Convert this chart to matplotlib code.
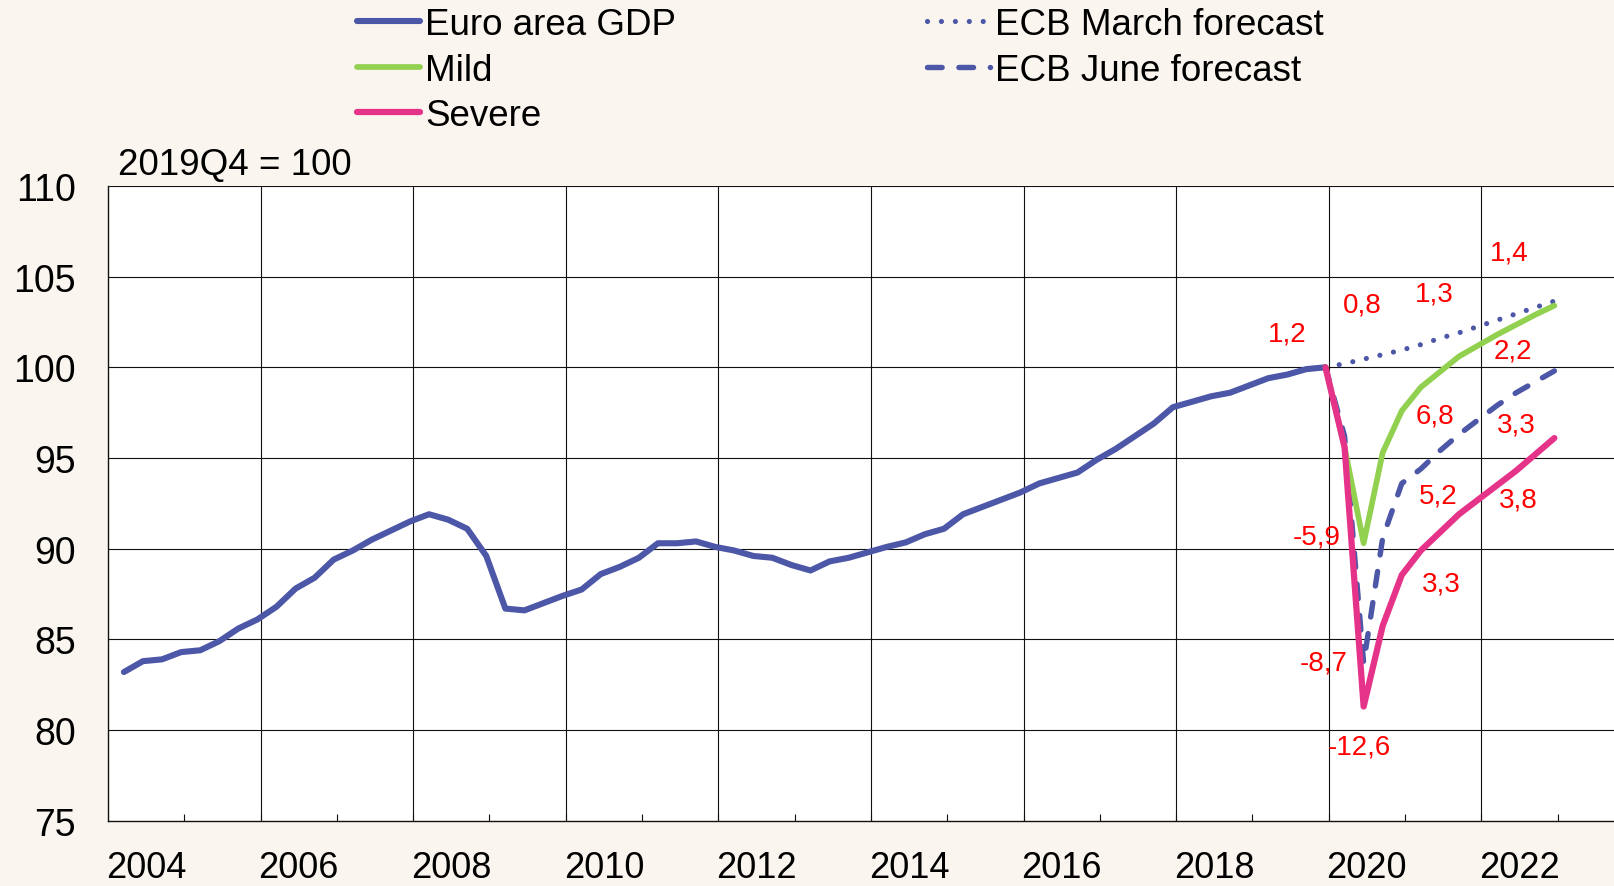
import matplotlib
matplotlib.use("Agg")
import matplotlib.pyplot as plt
import numpy as np
import pandas as pd

plt.rcParams["font.family"] = ["Liberation Sans", "DejaVu Sans"]

# Euro area GDP, index 2019Q4 = 100 (2004Q1 .. 2019Q4)
gdp = [
    83.2, 83.8, 83.9, 84.3,
    84.4, 84.9, 85.6, 86.1,
    86.8, 87.8, 88.4, 89.4,
    89.9, 90.5, 91.0, 91.5,
    91.9, 91.6, 91.1, 89.6,
    86.7, 86.6, 87.0, 87.4,
    87.75, 88.6, 89.0, 89.5,
    90.3, 90.3, 90.4, 90.1,
    89.9, 89.6, 89.5, 89.1,
    88.8, 89.3, 89.5, 89.8,
    90.1, 90.35, 90.8, 91.1,
    91.9, 92.3, 92.7, 93.1,
    93.6, 93.9, 94.2, 94.9,
    95.5, 96.2, 96.9, 97.8,
    98.1, 98.4, 98.6, 99.0,
    99.4, 99.6, 99.9, 100.0,
]

# scenarios, 2019Q4 .. 2022Q4
march_fc = [100.0, 100.2, 100.45, 100.7, 100.95, 101.25, 101.6, 101.9, 102.25, 102.6, 102.95, 103.3, 103.65]
june_fc = [100.0, 96.2, 83.7, 90.6, 93.6, 94.4, 95.4, 96.3, 97.1, 97.9, 98.6, 99.2, 99.8]
mild = [100.0, 95.6, 90.3, 95.3, 97.6, 98.9, 99.75, 100.6, 101.2, 101.8, 102.35, 102.9, 103.4]
severe = [100.0, 95.6, 81.3, 85.75, 88.55, 89.9, 90.9, 91.9, 92.7, 93.5, 94.3, 95.2, 96.1]

# annual growth rates written on the chart
growth_labels = ["1,2", "0,8", "1,3", "1,4", "2,2", "6,8", "3,3", "5,2", "3,8",
                 "-5,9", "3,3", "-8,7", "-12,6"]
growth_pos = [(2019.45, 101.85), (2020.44, 103.45), (2021.39, 104.05), (2022.37, 106.35),
              (2022.42, 100.9), (2021.39, 97.35), (2022.46, 96.85), (2021.44, 92.95),
              (2022.48, 92.7), (2019.84, 90.7), (2021.48, 88.1), (2019.94, 83.75),
              (2020.40, 79.1)]

years_grid = list(range(2006, 2023, 2))
years_lab = list(range(2004, 2023, 2))
yticks = [75, 80, 85, 90, 95, 100, 105, 110]


def to_x(periods):
    # quarters plotted at the middle of their last month
    return np.array([p.year + (3 * p.quarter - 0.5) / 12 for p in periods])


x_hist = to_x(pd.period_range("2004Q1", "2019Q4", freq="Q"))
x_fc = to_x(pd.period_range("2019Q4", "2022Q4", freq="Q"))

BLUE = "#4D57A7"
GREEN = "#92D050"
PINK = "#E6338A"
BG = "#FAF5EF"

fig = plt.figure(figsize=(16.14, 8.87), dpi=100, facecolor=BG)
ax = fig.add_axes([108 / 1614, 1 - 821.8 / 887, 1 - 108 / 1614, (821.8 - 186.9) / 887])
ax.set_facecolor("white")

for yr in years_grid:
    ax.axvline(yr, color="#111111", lw=0.8, zorder=1)
for yv in yticks[1:]:
    ax.axhline(yv, color="#111111", lw=0.8, zorder=1)

h_gdp, = ax.plot(x_hist, gdp, color=BLUE, lw=4.4, solid_joinstyle="round",
                 solid_capstyle="round", zorder=3, label="Euro area GDP")
h_mar, = ax.plot(x_fc, march_fc, color=BLUE, lw=3.7, linestyle=(0, (0.01, 2.7)),
                 dash_capstyle="round", zorder=3, label="ECB March forecast")
h_jun, = ax.plot(x_fc, june_fc, color=BLUE, lw=3.9, linestyle=(0, (2.7, 3.1)),
                 dash_capstyle="round", zorder=3, label="ECB June forecast")
h_mild, = ax.plot(x_fc, mild, color=GREEN, lw=4.1, solid_joinstyle="round",
                  solid_capstyle="round", zorder=4, label="Mild")
h_sev, = ax.plot(x_fc, severe, color=PINK, lw=4.5, solid_joinstyle="round",
                 solid_capstyle="round", zorder=5, label="Severe")

for txt, (tx, ty) in zip(growth_labels, growth_pos):
    ax.text(tx, ty, txt, color="#FF0000", fontsize=20, ha="center", va="center", zorder=6)

ax.set_xlim(2004, 2023.74)
ax.set_ylim(75, 110)
ax.set_yticks(yticks)
ax.set_yticklabels([str(v) for v in yticks])
ax.set_xticks([y + 0.5 for y in years_lab])
ax.set_xticklabels([str(y) for y in years_lab])
ax.set_xticks(range(2005, 2024), minor=True)
ax.tick_params(axis="both", which="major", length=0, labelsize=27)
ax.tick_params(axis="x", labelsize=26)
ax.tick_params(axis="y", pad=23)
ax.tick_params(axis="x", pad=21)
ax.tick_params(axis="x", which="minor", direction="in", length=5, width=0.8, color="#111111")
for side in ["top", "right"]:
    ax.spines[side].set_visible(False)
for side in ["left", "bottom"]:
    ax.spines[side].set_color("#111111")
    ax.spines[side].set_linewidth(1.0)

ax.text(0.0066, 1.033, "2019Q4 = 100", transform=ax.transAxes, fontsize=26.5,
        ha="left", va="center")

fig.legend(handles=[h_gdp, h_mild, h_sev, h_mar, h_jun], loc="upper left",
           bbox_to_anchor=(357 / 1614, 0.991), ncol=2, frameon=False, fontsize=26.5,
           handlelength=1.72, handletextpad=0.14, columnspacing=6.8,
           labelspacing=0.29, borderpad=0, borderaxespad=0)

fig.savefig("out.png", dpi=100, facecolor=BG)
